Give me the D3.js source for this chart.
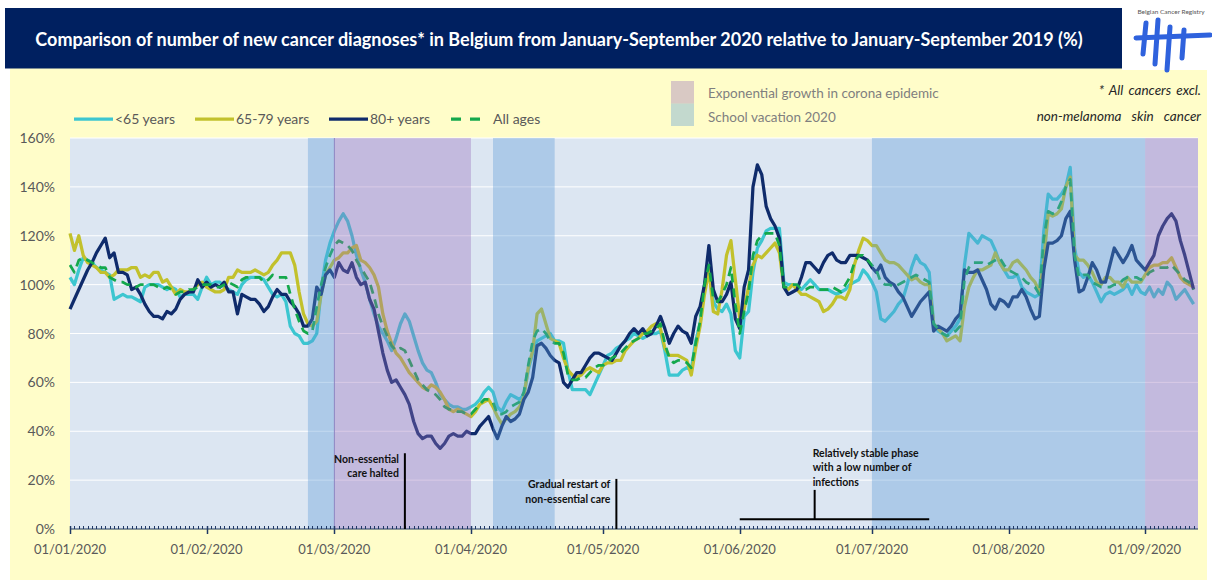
<!DOCTYPE html>
<html>
<head>
<meta charset="utf-8">
<script src="https://cdn.jsdelivr.net/npm/d3@7"></script>
<style>
  body { margin: 0; background: #fff; }
  svg { display: block; font-family: Lato, 'Open Sans', sans-serif; }
</style>
</head>
<body>
<div id="chart"></div>
<script>
// ---- data ----
const START = new Date(2020, 0, 1)
const END = new Date(2020, 8, 13)
const dates = d3.timeDay.range(START, new Date(2020, 8, 13)) // 01/01 .. 12/09

// one value per day, one line per month
const under65 = [
  103,100,106,111,110,109,107,106,105,104,94,95,96,95,95,94,93,99,100,100,100,99,98,99,98,95,96,96,96,94,99,
  103,100,101,101,99,98,97,96,100,102,103,103,103,102,99,96,95,96,93,83,80,79,76,76,77,80,98,110,117,
  122,126,129,126,120,112,106,101,94,88,83,80,77,73,78,84,88,85,79,73,68,65,64,60,55,53,51,50,50,49,49,
  50,51,53,56,58,56,50,48,52,55,54,53,55,65,72,77,78,79,80,77,77,76,65,57,57,57,57,55,59,63,
  67,71,72,74,75,77,78,80,79,78,79,80,80,81,73,63,63,63,65,66,65,77,84,100,108,93,90,89,92,88,73,
  70,87,89,105,115,118,122,123,123,123,101,100,100,99,98,100,102,100,98,98,98,97,96,97,98,100,101,102,106,104,
  101,97,86,85,87,89,92,94,100,107,112,109,108,105,84,81,80,79,81,83,86,108,121,119,117,120,119,118,114,109,106,
  103,103,104,99,97,96,95,96,122,137,135,135,137,140,148,115,105,103,104,101,97,93,96,97,96,97,98,100,96,100,97,
  96,99,95,98,96,101,99,94,96,98,95,92
]
const age65to79 = [
  121,114,120,112,109,108,107,105,105,103,104,106,106,106,107,107,103,104,103,105,105,101,102,99,96,98,97,97,98,100,101,
  99,98,97,97,98,103,103,106,105,105,105,106,105,104,105,108,110,113,113,113,108,97,88,84,83,85,96,104,107,
  110,111,113,113,115,116,110,109,107,104,99,88,81,76,72,70,67,64,62,60,58,57,59,58,56,53,49,48,49,48,47,
  46,48,51,52,53,50,46,43,45,47,48,50,54,66,73,88,90,84,78,77,76,70,65,63,62,63,65,66,65,64,
  67,68,68,69,69,73,75,77,78,80,81,83,84,82,74,71,71,71,70,69,63,74,83,96,106,89,88,98,112,118,102,
  86,90,99,108,112,111,113,115,117,113,99,98,100,98,96,96,95,94,93,89,90,92,95,95,94,98,108,114,119,118,
  116,116,113,110,109,109,108,106,104,102,103,101,100,100,84,82,80,77,78,79,77,91,99,103,106,106,107,108,113,109,106,
  106,109,110,108,106,103,101,97,110,129,128,129,131,140,144,112,110,110,108,105,101,100,103,103,101,101,99,103,101,101,101,
  104,107,108,108,109,109,111,107,103,101,100,99
]
const age80plus = [
  90,94,98,102,106,109,113,116,119,111,113,105,105,104,98,99,96,92,89,87,87,86,89,88,90,94,96,97,97,102,99,
  101,99,100,99,101,97,97,88,96,95,94,94,92,89,91,95,98,96,96,93,91,88,83,83,86,99,96,104,106,
  103,109,106,105,109,103,100,101,94,90,81,72,65,60,61,58,55,51,44,39,37,38,38,35,33,35,38,39,38,38,40,
  39,39,42,44,46,41,37,42,46,44,45,47,53,56,62,75,76,74,71,69,68,60,58,61,64,64,67,70,72,72,
  71,70,69,72,75,77,80,82,80,82,79,80,83,87,82,76,80,83,81,80,76,87,91,100,116,98,93,93,96,101,86,
  82,99,106,140,149,145,132,127,124,119,99,96,97,98,103,109,109,107,105,109,112,113,110,109,109,112,112,112,111,110,
  107,105,108,103,101,100,97,95,91,87,90,93,95,97,81,83,82,81,83,86,88,106,105,105,106,102,98,92,90,94,93,
  91,95,95,98,95,90,86,87,106,117,117,118,120,127,130,110,97,98,103,109,106,101,101,108,115,112,109,112,116,110,108,
  106,109,112,120,124,127,129,126,118,112,105,98
]
const allAges = [
  108,105,110,111,110,109,108,107,107,103,102,101,101,100,100,99,100,100,100,100,99,98,99,98,96,97,97,98,98,99,100,
  100,100,99,99,100,101,100,99,102,103,103,103,103,101,102,104,103,103,103,96,90,85,81,80,81,91,100,107,112,
  116,118,117,116,114,110,107,104,101,95,88,83,79,75,73,74,73,69,65,61,59,57,56,55,53,50,49,49,48,48,47,
  47,49,51,53,53,52,47,47,48,50,51,52,56,67,77,81,82,80,77,76,76,72,63,61,61,62,62,64,66,67,
  67,68,70,71,72,74,76,77,78,80,80,81,82,84,76,70,68,69,69,68,66,76,85,100,108,94,93,96,100,107,92,
  80,89,97,112,118,120,121,121,121,116,99,99,100,100,98,98,99,99,98,98,98,99,98,97,100,103,109,112,112,110,
  108,106,101,100,100,99,100,101,102,103,104,103,102,101,84,82,80,79,80,81,83,102,107,109,109,109,108,109,110,111,108,
  106,105,104,103,101,100,99,96,119,130,129,130,134,140,143,112,103,104,104,101,100,99,99,99,100,100,102,103,103,103,102,
  103,105,106,107,107,107,108,106,104,102,101,98
]

const seriesNames = ['<65 years', '65-79 years', '80+ years', 'All ages']
const yTicks = [0, 20, 40, 60, 80, 100, 120, 140, 160]
const monthLabels = ['01/01/2020', '01/02/2020', '01/03/2020', '01/04/2020', '01/05/2020',
  '01/06/2020', '01/07/2020', '01/08/2020', '01/09/2020']

const schoolVacations = [
  [new Date(2020, 1, 24), new Date(2020, 2, 1)],
  [new Date(2020, 3, 6), new Date(2020, 3, 20)],
  [new Date(2020, 6, 1), new Date(2020, 8, 1)]
]
const exponentialGrowth = [
  [new Date(2020, 2, 1), new Date(2020, 3, 1)],
  [new Date(2020, 8, 1), END]
]

const annotations = [
  {date: new Date(2020, 2, 17), top: 31, lines: ['Non-essential', 'care halted']},
  {date: new Date(2020, 4, 4), top: 20.5, lines: ['Gradual restart of', 'non-essential care']}
]
const stablePhase = {from: new Date(2020, 5, 1), to: new Date(2020, 6, 14), mark: new Date(2020, 5, 18),
  level: 4, top: 16, lines: ['Relatively stable phase', 'with a low number of', 'infections']}

// ---- styles ----
const COLORS = ['#3cc6d0', '#c2c12c', '#0f2b6b', '#14a84c']
const BLUE_BAND = '#5b9bd5'
const PURPLE_BAND = '#996eba'
const BAND_OPACITY = 0.37
const AXIS_COLOR = '#1f3864'
const LABEL_COLOR = '#595959'

const width = 1212
const height = 582
const plot = {left: 70, right: 1198, top: 138, bottom: 529}

const x = d3.scaleTime().domain([START, END]).range([plot.left, plot.right])
const y = d3.scaleLinear().domain([0, 160]).range([plot.bottom, plot.top])

const svg = d3.select('#chart').append('svg')
  .attr('width', width).attr('height', height)

// backgrounds
svg.append('rect').attr('x', 10).attr('y', 68).attr('width', 1197).attr('height', 512).attr('fill', '#fffdc9')
svg.append('rect').attr('x', 5).attr('y', 8).attr('width', 1117).attr('height', 60.5).attr('fill', '#002060')
svg.append('rect').attr('x', 1122).attr('y', 0).attr('width', 90).attr('height', 70).attr('fill', '#fff')

const title = svg.append('text')
  .attr('x', 559).attr('y', 46)
  .attr('text-anchor', 'middle').attr('fill', '#fff')
  .attr('font-weight', 700).attr('font-size', 17)
  .text('Comparison of number of new cancer diagnoses* in Belgium from January-September 2020 relative to January-September 2019 (%)')
const tw = title.node().getComputedTextLength()
title.attr('font-size', 17 * 1048 / tw)

// logo
const logo = svg.append('g')
logo.append('text').attr('x', 1171).attr('y', 14).attr('text-anchor', 'middle')
  .attr('font-size', 6.5).attr('fill', '#555').text('Belgian Cancer Registry')
logo.selectAll('path')
  .data(['M1146,23 L1143,54', 'M1158,20 L1155,64', 'M1170,27 L1167,70', 'M1184,30 L1182,58', 'M1136,38 L1210,35'])
  .join('path')
  .attr('d', d => d)
  .attr('stroke', '#2f62dd').attr('stroke-width', 5).attr('stroke-linecap', 'round').attr('fill', 'none')

// plot area
svg.append('rect')
  .attr('x', plot.left).attr('y', plot.top)
  .attr('width', plot.right - plot.left).attr('height', plot.bottom - plot.top)
  .attr('fill', '#dce6f2')

svg.append('g').selectAll('line')
  .data(yTicks.slice(1))
  .join('line')
  .attr('x1', plot.left).attr('x2', plot.right)
  .attr('y1', d => y(d)).attr('y2', d => y(d))
  .attr('stroke', '#fff').attr('stroke-width', 1)

svg.append('g').selectAll('text')
  .data(yTicks)
  .join('text')
  .attr('x', 55).attr('y', d => y(d) + 5)
  .attr('text-anchor', 'end').attr('font-size', 14).attr('fill', LABEL_COLOR)
  .text(d => d + '%')

// series
const series = [under65, age65to79, age80plus, allAges]
const line = d3.line()
  .x((d, i) => x(dates[i]))
  .y(d => y(d))

svg.append('g').selectAll('path')
  .data(series)
  .join('path')
  .attr('d', d => line(d))
  .attr('fill', 'none')
  .attr('stroke', (d, i) => COLORS[i])
  .attr('stroke-width', (d, i) => i === 3 ? 2.75 : 3.25)
  .attr('stroke-dasharray', (d, i) => i === 3 ? '9,6' : null)
  .attr('stroke-linejoin', 'round')

// period bands drawn over the lines
const bands = svg.append('g')
bands.selectAll('rect.vac')
  .data(schoolVacations)
  .join('rect').attr('class', 'vac')
  .attr('x', d => x(d[0])).attr('width', d => x(d[1]) - x(d[0]))
  .attr('y', plot.top).attr('height', plot.bottom - plot.top)
  .attr('fill', BLUE_BAND).attr('fill-opacity', BAND_OPACITY)
bands.selectAll('rect.exp')
  .data(exponentialGrowth)
  .join('rect').attr('class', 'exp')
  .attr('x', d => x(d[0])).attr('width', d => x(d[1]) - x(d[0]))
  .attr('y', plot.top).attr('height', plot.bottom - plot.top)
  .attr('fill', PURPLE_BAND).attr('fill-opacity', BAND_OPACITY)
bands.append('line')
  .attr('x1', x(exponentialGrowth[0][0])).attr('x2', x(exponentialGrowth[0][0]))
  .attr('y1', plot.top).attr('y2', plot.bottom)
  .attr('stroke', '#8f86c2').attr('stroke-width', 1)

// x axis
const axis = svg.append('g')
axis.append('line')
  .attr('x1', plot.left).attr('x2', plot.right)
  .attr('y1', plot.bottom).attr('y2', plot.bottom)
  .attr('stroke', AXIS_COLOR).attr('stroke-width', 1)
axis.selectAll('line.minor')
  .data(d3.timeDay.range(START, END))
  .join('line').attr('class', 'minor')
  .attr('x1', d => Math.round(x(d)) + 0.5).attr('x2', d => Math.round(x(d)) + 0.5)
  .attr('y1', plot.bottom - 3).attr('y2', plot.bottom)
  .attr('stroke', AXIS_COLOR).attr('stroke-width', 1)
const months = d3.timeMonth.range(START, END)
axis.selectAll('line.major')
  .data(months)
  .join('line').attr('class', 'major')
  .attr('x1', d => Math.round(x(d)) + 0.5).attr('x2', d => Math.round(x(d)) + 0.5)
  .attr('y1', plot.bottom - 3).attr('y2', plot.bottom + 5)
  .attr('stroke', AXIS_COLOR).attr('stroke-width', 1.5)
axis.selectAll('text')
  .data(months)
  .join('text')
  .attr('x', d => x(d)).attr('y', 554)
  .attr('text-anchor', 'middle').attr('font-size', 13).attr('fill', LABEL_COLOR)
  .text((d, i) => monthLabels[i])

// annotations
const notes = svg.append('g').attr('font-size', 10.5).attr('font-weight', 700).attr('fill', '#111')
annotations.forEach(a => {
  const ax = x(a.date)
  notes.append('line')
    .attr('x1', ax).attr('x2', ax).attr('y1', y(a.top)).attr('y2', plot.bottom)
    .attr('stroke', '#000').attr('stroke-width', 2)
  notes.append('text')
    .attr('text-anchor', 'end')
    .selectAll('tspan')
    .data(a.lines)
    .join('tspan')
    .attr('x', ax - 6).attr('y', (d, i) => y(a.top) + 9.5 + i * 14.5)
    .text(d => d)
})
const sx = x(stablePhase.mark)
notes.append('line')
  .attr('x1', x(stablePhase.from)).attr('x2', x(stablePhase.to))
  .attr('y1', y(stablePhase.level)).attr('y2', y(stablePhase.level))
  .attr('stroke', '#000').attr('stroke-width', 2)
notes.append('line')
  .attr('x1', sx).attr('x2', sx)
  .attr('y1', y(stablePhase.top)).attr('y2', y(stablePhase.level))
  .attr('stroke', '#000').attr('stroke-width', 2)
notes.append('text')
  .selectAll('tspan')
  .data(stablePhase.lines)
  .join('tspan')
  .attr('x', sx - 2).attr('y', (d, i) => y(stablePhase.top) - 33 + i * 14.3)
  .text(d => d)

// series legend
const legend = svg.append('g').attr('font-size', 14).attr('fill', LABEL_COLOR)
const legendX = [74, 195, 329, 451]
seriesNames.forEach((name, i) => {
  const lx = legendX[i]
  legend.append('line')
    .attr('x1', lx).attr('x2', lx + (i === 3 ? 29 : 39)).attr('y1', 119).attr('y2', 119)
    .attr('stroke', COLORS[i]).attr('stroke-width', 3.25)
    .attr('stroke-dasharray', i === 3 ? '10,9' : null)
  legend.append('text')
    .attr('x', lx + (i === 3 ? 42 : 41)).attr('y', 124)
    .text(name)
})

// band legend
const bandLegend = svg.append('g').attr('font-size', 13.5).attr('fill', '#7f7f7f')
const bandItems = [
  {color: PURPLE_BAND, label: 'Exponential growth in corona epidemic'},
  {color: BLUE_BAND, label: 'School vacation 2020'}
]
bandItems.forEach((b, i) => {
  bandLegend.append('rect')
    .attr('x', 671).attr('y', 81 + i * 22.5).attr('width', 23).attr('height', 22.5)
    .attr('fill', b.color).attr('fill-opacity', BAND_OPACITY)
  bandLegend.append('text')
    .attr('x', 708).attr('y', 98 + i * 24)
    .text(b.label)
})

// footnote
svg.append('g').attr('font-size', 13.5).attr('font-style', 'italic').attr('fill', '#262626')
  .attr('text-anchor', 'end')
  .selectAll('text')
  .data(['* All cancers excl.', 'non-melanoma skin cancer'])
  .join('text')
  .attr('x', 1201).attr('y', (d, i) => 95 + i * 26)
  .attr('word-spacing', (d, i) => i === 0 ? 2 : 7)
  .text(d => d)
</script>
</body>
</html>
